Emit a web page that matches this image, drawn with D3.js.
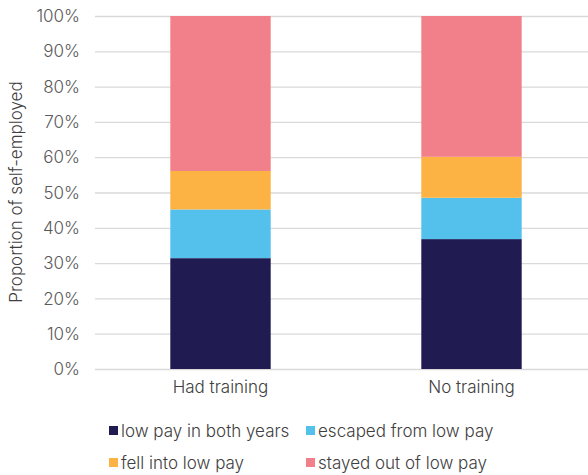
<!DOCTYPE html>
<html>
<head>
<meta charset="utf-8">
<script src="https://cdn.jsdelivr.net/npm/d3@7"></script>
<style>
  body { margin: 0; background: #fff; }
  text { font-family: Inter, "Noto Sans", sans-serif; font-weight: 300; }
</style>
</head>
<body>
<script>
// categories and series (percent of self-employed)
const groups = ['Had training', 'No training'];
const seriesNames = ['low pay in both years', 'escaped from low pay', 'fell into low pay', 'stayed out of low pay'];
const lowPayBoth = [31.4, 36.8];
const escaped = [13.8, 11.7];
const fellInto = [10.9, 11.6];
const stayedOut = [43.9, 39.9];
const yTicks = [0, 10, 20, 30, 40, 50, 60, 70, 80, 90, 100];

const colors = ['#201c52', '#54c0ec', '#fdb244', '#f2808a'];

const width = 588, height = 475;

const rows = groups.map((g, i) => ({
    group: g,
    s0: lowPayBoth[i], s1: escaped[i], s2: fellInto[i], s3: stayedOut[i]
}));

const stack = d3.stack().keys(['s0', 's1', 's2', 's3']);
const layers = stack(rows);

const svg = d3.select('body').append('svg')
    .attr('width', width)
    .attr('height', height);

const x = d3.scaleBand()
    .domain(groups)
    .range([95, 597])
    .paddingInner(0.6)
    .paddingOuter(0.3);

const y = d3.scaleLinear()
    .domain([0, 100])
    .range([369, 16]);

// gridlines
svg.append('g')
    .selectAll('line')
    .data(yTicks)
    .enter()
    .append('line')
        .attr('x1', 95)
        .attr('x2', width)
        .attr('y1', d => y(d) + 0.5)
        .attr('y2', d => y(d) + 0.5)
        .attr('stroke', '#d9d9d9')
        .attr('stroke-width', 1.3);

// y tick labels
svg.append('g')
    .selectAll('text')
    .data(yTicks)
    .enter()
    .append('text')
        .attr('x', 80)
        .attr('y', d => y(d))
        .attr('dy', '0.36em')
        .attr('text-anchor', 'end')
        .attr('font-size', 17)
        .attr('fill', '#595959')
        .text(d => d + '%');

// bars
svg.append('g')
    .selectAll('g')
    .data(layers)
    .enter()
    .append('g')
        .attr('fill', (d, i) => colors[i])
    .selectAll('rect')
    .data(d => d)
    .enter()
    .append('rect')
        .attr('x', d => x(d.data.group))
        .attr('width', x.bandwidth())
        .attr('y', d => y(d[1]))
        .attr('height', d => y(d[0]) - y(d[1]));

// x labels
svg.append('g')
    .selectAll('text')
    .data(groups)
    .enter()
    .append('text')
        .attr('x', d => x(d) + x.bandwidth() / 2)
        .attr('y', 393)
        .attr('text-anchor', 'middle')
        .attr('font-size', 17)
        .attr('fill', '#404040')
        .text(d => d);

// y axis title
svg.append('text')
    .attr('transform', 'translate(22,' + 192 + ') rotate(-90)')
    .attr('text-anchor', 'middle')
    .attr('font-size', 17)
    .attr('fill', '#404040')
    .text('Proportion of self-employed');

// legend, two columns
const legend = svg.append('g')
    .selectAll('g')
    .data(seriesNames)
    .enter()
    .append('g')
        .attr('transform', (d, i) => 'translate(' + (i % 2 === 0 ? 109 : 306) + ',' + (i < 2 ? 431 : 463) + ')');

legend.append('rect')
    .attr('x', 0)
    .attr('y', -5)
    .attr('width', 9)
    .attr('height', 9)
    .attr('fill', (d, i) => colors[i]);

legend.append('text')
    .attr('x', 12)
    .attr('y', 0)
    .attr('dy', '0.36em')
    .attr('font-size', 17)
    .attr('fill', '#404040')
    .text(d => d);
</script>
</body>
</html>
